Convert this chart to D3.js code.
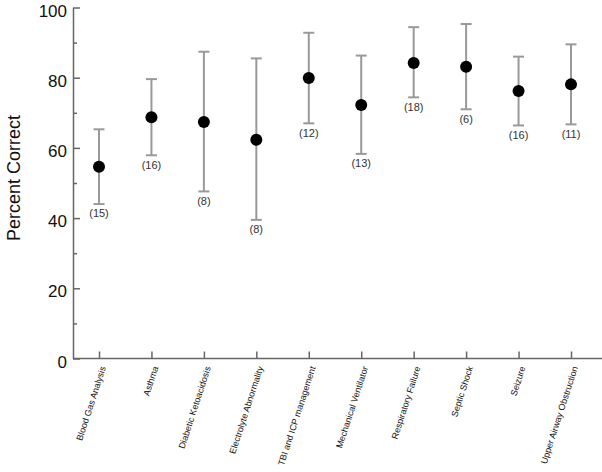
<!DOCTYPE html>
<html lang="en">
<head>
<meta charset="utf-8">
<title>Percent Correct by Topic</title>
<script src="https://cdn.jsdelivr.net/npm/d3@7"></script>
<style>
  body { margin: 0; background: #fff; }
  svg { display: block; font-family: "Liberation Sans", Arial, sans-serif; }
  .axis path, .axis line { fill: none; stroke: #666; stroke-width: 1.5; }
  .axis text { fill: #111; font-size: 17px; }
</style>
</head>
<body>
<script>
// values
var categories = ["Blood Gas Analysis", "Asthma", "Diabetic Ketoacidosis", "Electrolyte Abnormality",
                  "TBI and ICP management", "Mechanical Ventilator", "Respiratory Failure",
                  "Septic Shock", "Seizure", "Upper Airway Obstruction"];
var means  = [54.6, 68.7, 67.4, 62.3, 79.9, 72.2, 84.2, 83.1, 76.2, 78.1];
var upper  = [65.3, 79.6, 87.4, 85.5, 92.8, 86.3, 94.4, 95.3, 86.0, 89.5];
var lower  = [44.0, 57.9, 47.6, 39.5, 67.0, 58.3, 74.4, 71.0, 66.4, 66.7];
var counts = [15, 16, 8, 8, 12, 13, 18, 6, 16, 11];
var majorTicks = [0, 20, 40, 60, 80, 100];
var minorTicks = [10, 30, 50, 70, 90];

var width = 602, height = 472;
var axisX = 73, axisY = 358.5;

var svg = d3.select("body").append("svg")
    .attr("width", width)
    .attr("height", height);

var xScale = d3.scalePoint()
    .domain(categories)
    .range([99, 571]);

var yScale = d3.scaleLinear()
    .domain([0, 100])
    .range([axisY, 7.5]);

// y axis, ticks pointing inward
var yAxis = d3.axisLeft(yScale)
    .tickValues(majorTicks)
    .tickSizeInner(-7)
    .tickSizeOuter(0)
    .tickPadding(6);

var gy = svg.append("g")
    .attr("class", "axis")
    .attr("transform", "translate(" + axisX + ",0)")
    .call(yAxis);
gy.selectAll(".tick text").attr("dy", "0.5em");

svg.append("g")
    .attr("class", "axis")
    .attr("transform", "translate(" + axisX + ",0)")
    .call(d3.axisLeft(yScale).tickValues(minorTicks).tickSizeInner(-4).tickSizeOuter(0).tickFormat(""))
    .select(".domain").remove();

// x axis: long base line plus small upward ticks
var xAxis = d3.axisBottom(xScale)
    .tickSizeInner(-7)
    .tickSizeOuter(0)
    .tickFormat("");

var gx = svg.append("g")
    .attr("class", "axis")
    .attr("transform", "translate(0," + axisY + ")")
    .call(xAxis);
gx.select(".domain").remove();
gx.append("line")
    .attr("x1", axisX).attr("x2", width)
    .attr("y1", 0).attr("y2", 0);

// slanted category labels
svg.append("g").selectAll("text")
    .data(categories)
    .enter().append("text")
    .attr("transform", function(d) {
        return "translate(" + (xScale(d) + 4) + "," + (axisY + 8) + ") rotate(-72)";
    })
    .attr("dy", "0.35em")
    .attr("text-anchor", "end")
    .style("font-size", "9px")
    .style("fill", "#111")
    .text(function(d) { return d; });

// y axis title
svg.append("text")
    .attr("transform", "translate(20,178) rotate(-90)")
    .attr("text-anchor", "middle")
    .style("font-size", "18px")
    .style("fill", "#111")
    .text("Percent Correct");

// error bars
var bars = svg.append("g").selectAll("g")
    .data(categories)
    .enter().append("g")
    .attr("stroke", "#999")
    .attr("stroke-width", 2);

bars.append("line")
    .attr("x1", function(d) { return xScale(d); })
    .attr("x2", function(d) { return xScale(d); })
    .attr("y1", function(d, i) { return yScale(upper[i]); })
    .attr("y2", function(d, i) { return yScale(lower[i]); });

bars.append("line")
    .attr("x1", function(d) { return xScale(d) - 5.5; })
    .attr("x2", function(d) { return xScale(d) + 5.5; })
    .attr("y1", function(d, i) { return yScale(upper[i]); })
    .attr("y2", function(d, i) { return yScale(upper[i]); });

bars.append("line")
    .attr("x1", function(d) { return xScale(d) - 5.5; })
    .attr("x2", function(d) { return xScale(d) + 5.5; })
    .attr("y1", function(d, i) { return yScale(lower[i]); })
    .attr("y2", function(d, i) { return yScale(lower[i]); });

// mean points
svg.append("g").selectAll("circle")
    .data(categories)
    .enter().append("circle")
    .attr("cx", function(d) { return xScale(d); })
    .attr("cy", function(d, i) { return yScale(means[i]); })
    .attr("r", 6)
    .style("fill", "#000");

// n labels under each bar
svg.append("g").selectAll("text")
    .data(categories)
    .enter().append("text")
    .attr("x", function(d) { return xScale(d); })
    .attr("y", function(d, i) { return yScale(lower[i]) + 9.5; })
    .attr("dy", "0.35em")
    .attr("text-anchor", "middle")
    .style("font-size", "11px")
    .style("fill", "#333")
    .text(function(d, i) { return "(" + counts[i] + ")"; });
</script>
</body>
</html>
